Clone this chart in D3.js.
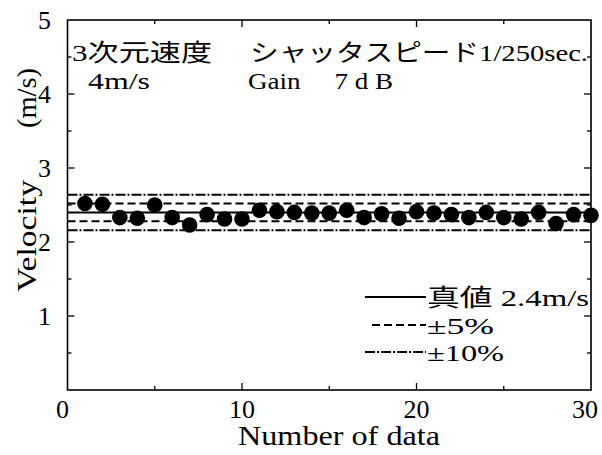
<!DOCTYPE html>
<html><head><meta charset="utf-8">
<script src="https://cdn.jsdelivr.net/npm/d3@7"></script>
<style>
body{margin:0;background:#fff;}
text{font-family:"Liberation Serif","Times New Roman","Noto Sans CJK JP",serif;fill:#000;}
</style></head>
<body><svg id="c" width="602" height="455"></svg>
<script>
const dataIndex = d3.range(1, 31);
const velocity = [2.52,2.51,2.33,2.32,2.50,2.33,2.23,2.37,2.31,2.31,
                  2.43,2.41,2.40,2.39,2.39,2.43,2.33,2.38,2.32,2.41,
                  2.39,2.37,2.33,2.40,2.33,2.31,2.40,2.25,2.37,2.36];
const trueValue = 2.4;
const bandLabels = ["真値 2.4m/s", "±5%", "±10%"];
const xTicks = [0, 10, 20, 30];
const yTicks = [0, 1, 2, 3, 4, 5];

const svg = d3.select("#c");
const L = 67.5, R = 591, T = 20, B = 390;
const x = d3.scaleLinear().domain([0, 30]).range([L, R]);
const y = d3.scaleLinear().domain([0, 5]).range([B, T]);

// reference lines
const refs = [
  {v: trueValue, dash: null, w: 2},
  {v: trueValue * 1.05, dash: "8,4", w: 2},
  {v: trueValue * 0.95, dash: "8,4", w: 2},
  {v: trueValue * 1.10, dash: "10,2,2,2", w: 2},
  {v: trueValue * 0.90, dash: "10,2,2,2", w: 2}
];
svg.selectAll("line.ref").data(refs).enter().append("line")
  .attr("x1", L).attr("x2", R)
  .attr("y1", d => y(d.v)).attr("y2", d => y(d.v))
  .attr("stroke", "#000").attr("stroke-width", d => d.w)
  .attr("stroke-dasharray", d => d.dash);

// points
svg.selectAll("circle.pt").data(velocity).enter().append("circle")
  .attr("cx", (d, i) => x(dataIndex[i])).attr("cy", d => y(d))
  .attr("r", 7.8).attr("fill", "#000");

// frame
svg.append("rect").attr("x", L).attr("y", T).attr("width", R - L).attr("height", B - T)
  .attr("fill", "none").attr("stroke", "#000").attr("stroke-width", 1.6);

// ticks (inward)
const gx = svg.append("g");
d3.range(5, 30, 5).forEach(v => {
  const len = v % 10 === 0 ? 7 : 4;
  gx.append("line").attr("x1", x(v)).attr("x2", x(v)).attr("y1", B).attr("y2", B - len).attr("stroke", "#000").attr("stroke-width", 1.3);
  gx.append("line").attr("x1", x(v)).attr("x2", x(v)).attr("y1", T).attr("y2", T + len).attr("stroke", "#000").attr("stroke-width", 1.3);
});
d3.range(0.5, 5, 0.5).forEach(v => {
  const len = Number.isInteger(v) ? 7 : 4;
  gx.append("line").attr("x1", L).attr("x2", L + len).attr("y1", y(v)).attr("y2", y(v)).attr("stroke", "#000").attr("stroke-width", 1.3);
  gx.append("line").attr("x1", R).attr("x2", R - len).attr("y1", y(v)).attr("y2", y(v)).attr("stroke", "#000").attr("stroke-width", 1.3);
});

// tick labels
svg.selectAll("text.xt").data(xTicks).enter().append("text")
  .attr("x", d => x(d) - (d === 30 ? 6 : 0) - (d === 0 ? 5 : 0)).attr("y", 418)
  .attr("text-anchor", "middle").attr("font-size", 26).text(d => d);
svg.selectAll("text.yt").data(yTicks.filter(d => d > 0)).enter().append("text")
  .attr("x", 51).attr("y", d => y(d) + 9)
  .attr("text-anchor", "end").attr("font-size", 26).text(d => d);

function txt(s, x0, y0, size, len) {
  return svg.append("text").attr("x", x0).attr("y", y0).attr("font-size", size)
    .attr("textLength", len).attr("lengthAdjust", "spacingAndGlyphs")
    .attr("xml:space", "preserve").text(s);
}

// axis titles
txt("Number of data", 238, 445, 27, 202);
svg.append("text").attr("transform", "translate(36,292) rotate(-90)")
  .attr("font-size", 28).attr("textLength", 112).attr("lengthAdjust", "spacingAndGlyphs")
  .text("Velocity");
svg.append("text").attr("transform", "translate(36,128) rotate(-90)")
  .attr("font-size", 28).attr("textLength", 60).attr("lengthAdjust", "spacingAndGlyphs")
  .text("(m/s)");

// annotations
txt("3次元速度", 72, 61, 24, 140);
txt("4m/s", 88, 89, 24, 62);
txt("シャッタスピード1/250sec.", 250, 61, 24, 338);
txt("Gain\u3000 7 d B", 248, 89, 24, 145);

// legend
const leg = [
  {dash: null, y: 297, x1: 365, len: 162},
  {dash: "8,4", y: 325, x1: 372, len: 67},
  {dash: "10,2,2,2", y: 352, x1: 365, len: 77}
];
leg.forEach((d, i) => {
  svg.append("line").attr("x1", d.x1).attr("x2", 426).attr("y1", d.y).attr("y2", d.y)
    .attr("stroke", "#000").attr("stroke-width", 2).attr("stroke-dasharray", d.dash);
  txt(bandLabels[i], 427, d.y + 9, 24, d.len);
});
</script></body></html>
